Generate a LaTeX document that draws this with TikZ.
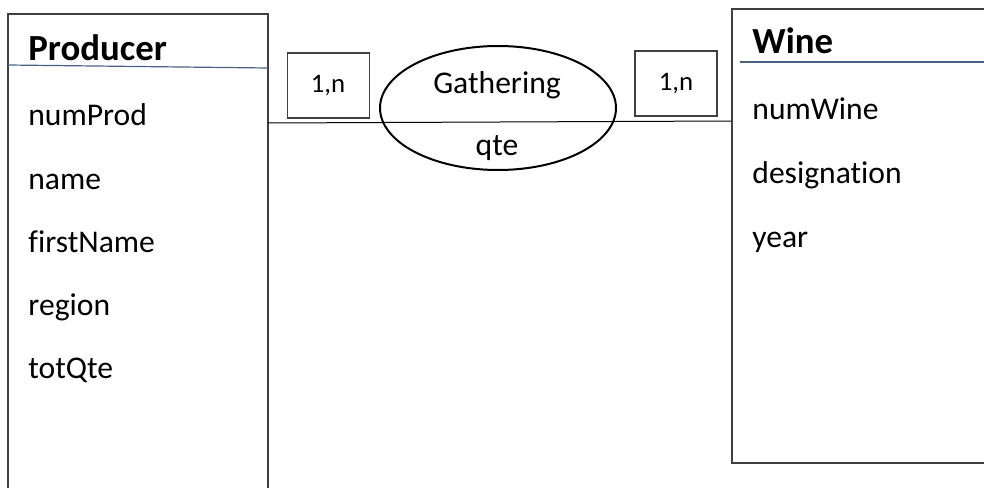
\documentclass[tikz,border=0pt]{standalone}
\usepackage{fontspec}
\setmainfont{Carlito}[Ligatures=NoCommon]
\usetikzlibrary{shapes.geometric}
\definecolor{boxgray}{HTML}{404040}
\definecolor{headblue}{HTML}{4A6282}
\tikzset{
  entity/.style={draw=boxgray,line width=0.75pt},
  title/.style={anchor=base west,inner sep=0pt,font=\fontsize{18.4}{22}\selectfont\bfseries},
  attr/.style={anchor=base west,inner sep=0pt,font=\fontsize{15.8}{19}\selectfont},
  card/.style={draw=boxgray,line width=0.6pt,rectangle,minimum width=41pt,minimum height=32.5pt,inner sep=0pt},
  cardtext/.style={anchor=base,inner sep=0pt,font=\fontsize{13.4}{16}\selectfont},
  relation/.style={draw=black,line width=1pt,ellipse,minimum width=118pt,minimum height=62pt,inner sep=0pt}
}
\begin{document}
\begin{tikzpicture}[x=0.5pt,y=-0.5pt]
\useasboundingbox (0,0) rectangle (984,487);
% entites (ouvertes sur les bords)
\draw[entity] (8,490) -- (8,14) -- (268,14) -- (268,490);
\draw[entity] (986,9) -- (732,9) -- (732,463) -- (986,463);
\draw[headblue,line width=0.6pt] (8,65) -- (268,68);
\draw[headblue,line width=0.6pt] (740,62) -- (984,62);
\node[title] (prodtitle) at (28,60) {Producer};
\node[title] (winetitle) at (752,53) {Wine};

% attributs Producer
\node[attr] (numprod) at (28,125) {numProd};
\node[attr] (name) at (28,189) {name};
\node[attr] (firstname) at (28,252) {firstName};
\node[attr] (region) at (28,315) {region};
\node[attr] (totqte) at (28,378) {totQte};

% attributs Wine
\node[attr] (numwine) at (752,119) {numWine};
\node[attr] (designation) at (752,183) {designation};
\node[attr] (year) at (752,247) {year};

% association
\coordinate (prodlink) at (268,123);
\coordinate (winelink) at (731,121);
\draw[black,line width=0.5pt] (prodlink) -- (winelink);
\node[relation] (gathering) at (498,108) {};
\node[attr,anchor=base] (relname) at (497,93) {Gathering};
\node[attr,anchor=base] (relattr) at (497,155) {qte};

% cardinalites
\node[card] (cardprod) at (328.5,85.5) {};
\node[cardtext] at (328,92) {1,n};
\node[card] (cardwine) at (676,83.5) {};
\node[cardtext] at (676,90) {1,n};
\end{tikzpicture}
\end{document}
